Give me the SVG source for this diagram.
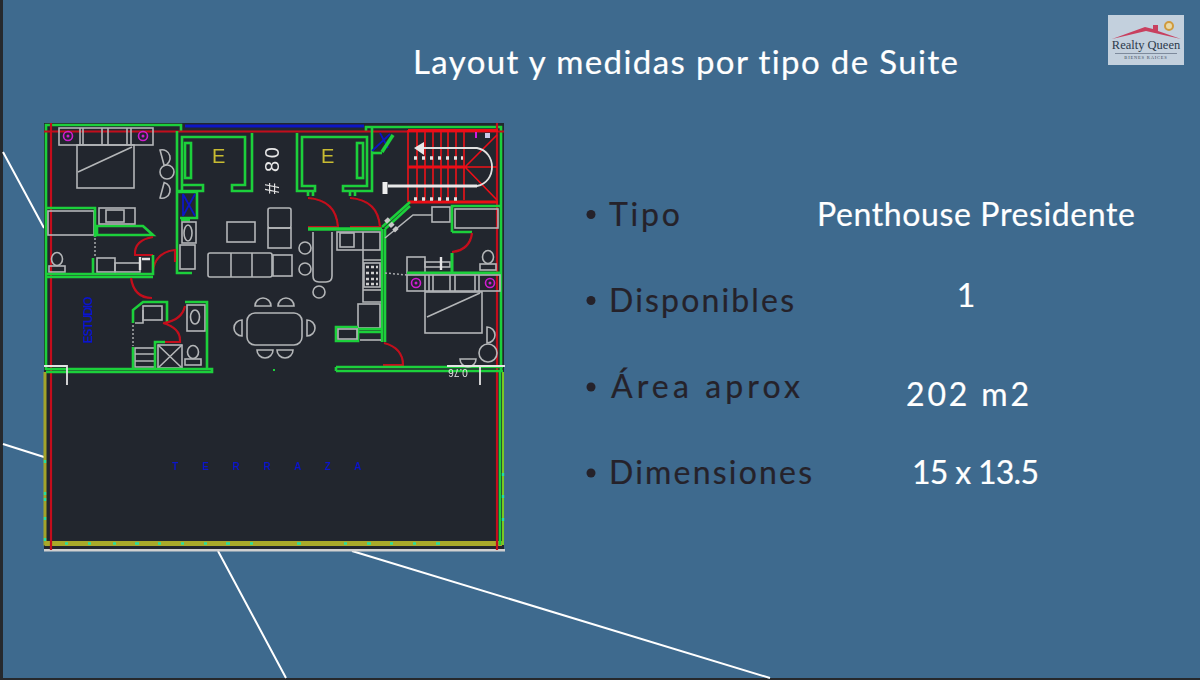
<svg xmlns="http://www.w3.org/2000/svg" width="1200" height="680" viewBox="0 0 1200 680">
<style>
text{font-family:"Lato","Liberation Sans",sans-serif;font-variant-ligatures:none}
.t{font-size:33px;fill:#fff;stroke:#fff;stroke-width:.2px}
.d{font-size:32px;fill:#25222a;stroke:#25222a;stroke-width:.2px}
.v{font-size:32px;fill:#fff;stroke:#fff;stroke-width:.2px}
.bl{fill:#25222a}
.bg{stroke:#fff;stroke-width:2;fill:none}
.g{stroke:#1fd03a;stroke-width:2.6;fill:none}
.w{stroke:#b4b6b8;stroke-width:1.6;fill:none}
.wb{stroke:#e4e4e4;stroke-width:2.4;fill:none}
.r{stroke:#c4101c;stroke-width:2.2;fill:none}
.rb{stroke:#ee1018;stroke-width:2.2;fill:none}
.b{stroke:#0c14c4;stroke-width:1.8;fill:none}
.p{stroke:#d01ed0;stroke-width:1.6;fill:none}
.e{font-size:20px;fill:#c8bb30;font-family:"Liberation Sans",sans-serif}
.n{fill:#0c14c8;font-family:"Liberation Sans",sans-serif;font-weight:bold}
.dot{stroke:#a8aaac;stroke-width:1.5;stroke-dasharray:2 2;fill:none}
</style>
<defs>
<filter id="soft" x="-2%" y="-2%" width="104%" height="104%"><feGaussianBlur stdDeviation="0.4"/></filter>
<g id="chair"><path class="w" d="M-8 3A8 8 0 0 1 8 3Z"/></g>
<g id="toilet"><ellipse class="w" cx="0" cy="-1" rx="5.500" ry="6.500"/><rect class="w" x="-8" y="6" width="16" height="6"/></g>
</defs>
<rect width="1200" height="680" fill="#3e6a8e"/>
<rect x="0" y="0" width="3" height="680" fill="#26292d"/>
<rect x="0" y="678" width="1200" height="2" fill="#26292d"/>
<g id="background-lines">
<path class="bg" d="M3 152L44 228M3 444L44 457M218 551L286 678M352 551L770 678"/>
</g>
<g id="title"><text class="t" x="413" y="74" textLength="545" lengthAdjust="spacing">Layout y medidas por tipo de Suite</text></g>

<g id="floor-plan" filter="url(#soft)">
<rect x="44" y="123" width="460" height="427" fill="#22262e"/>
<rect x="44" y="549" width="461" height="2.500" fill="#d0d0d0"/>
<path d="M185 126H364" stroke="#0c14c4" stroke-width="3" fill="none"/>
<g id="outer-walls">
<path d="M45 372V544H502" stroke="#a3a32a" stroke-width="3" fill="none"/>
<path d="M45 543.500H502" stroke="#a9a92a" stroke-width="5" fill="none"/>
<path d="M503 372V545" stroke="#7cc820" stroke-width="2" fill="none"/>
<path class="g" d="M46 370V125H181V131M366 131V127H501V370M500 370V545"/>
<path d="M65 543.500h3M88 543.500h3M113 543.500h3M135 543.500h4M158 543.500h3M181 543.500h3M204 543.500h3M226 543.500h4M250 543.500h3M297 543.500h4M344 543.500h3M367 543.500h4M390 543.500h3M413 543.500h3M436 543.500h4M45 460v3M45 492v3M45 498v3M45 517v3M45 538v3M503 473v3M503 495v3M503 518v3" stroke="#28e0a0" stroke-width="2.400" fill="none"/>
</g>
<g id="red-lines">
<path class="r" d="M51 123V550M497 123V550"/>
<path class="r" d="M44 131.500H504"/>
</g>
<g id="bedroom-left">
<rect class="w" x="59" y="128" width="94" height="17"/>
<path class="w" d="M80 128V145M83 128V145M102 128V145M108 128V145M127 128V145M131 128V145"/>
<circle class="p" cx="68" cy="136" r="4.500"/><circle cx="68" cy="136" r="1.500" fill="#d01ed0"/>
<circle class="p" cx="143" cy="136" r="4.500"/><circle cx="143" cy="136" r="1.500" fill="#d01ed0"/>
<rect class="w" x="77" y="145" width="57" height="43"/>
<path class="w" d="M78 172L132 147"/>
<circle class="w" cx="167" cy="172" r="7"/>
<use href="#chair" transform="translate(165 157) rotate(75)"/>
<use href="#chair" transform="translate(165 191) rotate(105)"/>
</g>
<g id="closet-1">
<path class="g" d="M177 131V273H192M182 191V137H245V185H232V191H252V133M182 185H203V191H177"/>
<rect class="g" x="185" y="143" width="6" height="35"/>
<text class="e" x="212" y="163">E</text>
<path class="g" d="M178 192H197V218H180M181 220H190"/>
<path class="b" d="M183 194L195 216M195 194L183 216M183 194V216"/>
<rect class="w" x="182" y="222" width="14" height="21"/>
<rect class="w" x="180" y="245" width="15" height="24"/>
<ellipse class="w" cx="188" cy="233" rx="4" ry="8"/>
</g>
<g id="bath-left">
<rect class="w" x="48" y="211" width="46" height="24"/>
<path class="g" d="M46 208H95V237M97 226H143L153 235H97Z"/>
<rect class="w" x="99" y="208" width="36" height="16"/>
<rect class="w" x="106" y="210" width="18" height="12"/>
<path class="dot" d="M95 238V258"/>
<path class="r" d="M153 237Q134 240 135 255H153"/>
<path class="r" d="M153 270Q156 252 175 250V262"/>
<use href="#toilet" transform="translate(57 260)"/>
<rect class="w" x="97" y="258" width="18" height="14"/>
<rect class="w" x="115" y="263" width="25" height="9"/>
<path class="wb" d="M140 257V270M142 259H150"/>
<path class="g" d="M93 258V274M46 274H153V255M46 277H153"/>
</g>
<g id="bath-study">
<path class="r" d="M131 278Q134 298 152 298"/>
<path class="g" d="M133 323V310L143 302H167V323"/>
<rect class="w" x="143" y="306" width="19" height="14"/>
<path class="w" d="M135 323H143V310"/>
<path class="dot" d="M133 325V346"/>
<path class="r" d="M164 323Q182 320 185 306M163 323Q180 328 180 340V342H163"/>
<rect class="w" x="135" y="348" width="20" height="19"/>
<path class="w" d="M135 354H155M135 361H155"/>
<path class="g" d="M133 347V369M155 369V342H165"/>
<rect class="w" x="158" y="345" width="24" height="23"/>
<path class="w" d="M158 345L182 368M182 345L158 368"/>
<use href="#toilet" transform="translate(193 353)"/>
<rect class="w" x="187" y="305" width="18" height="26"/>
<ellipse class="w" cx="195" cy="317" rx="4.500" ry="7"/>
<path class="g" d="M185 302H207V370"/>
<path class="g" d="M46 369H212V372H46"/>
</g>
<g id="living">
<rect class="w" x="227" y="222" width="28" height="20"/>
<rect class="w" x="208" y="253" width="64" height="24" rx="2"/>
<path class="w" d="M231 253V277M252 253V277"/>
<rect class="w" x="268" y="208" width="23" height="20" rx="2"/>
<rect class="w" x="268" y="228" width="23" height="20"/>
<rect class="w" x="273" y="255" width="19" height="21"/>
<text fill="#e8e8e8" font-size="20" style="font-family:'Liberation Sans',sans-serif" transform="rotate(-90 279 194)" x="279" y="194" textLength="47" lengthAdjust="spacing"># 80</text>
</g>
<g id="dining">
<rect class="w" x="247" y="313" width="55" height="32" rx="8"/>
<use href="#chair" transform="translate(263 303)"/>
<use href="#chair" transform="translate(286 303)"/>
<use href="#chair" transform="translate(265 353) rotate(180)"/>
<use href="#chair" transform="translate(285 353) rotate(180)"/>
<use href="#chair" transform="translate(239 328) rotate(-90)"/>
<use href="#chair" transform="translate(310 328) rotate(90)"/>
<path d="M274 369v2" stroke="#1fd03a" stroke-width="2"/>
</g>
<g id="closet-2">
<path class="g" d="M297 133V191H315V186H302V137H367V186H343V191H372V127M308 191V196M313 191V196M350 191V196M355 191V196"/>
<rect class="g" x="357" y="143" width="6" height="35"/>
<text class="e" x="321" y="163">E</text>
<path class="b" d="M372 151L390 134M380 133L388 148"/>
<path d="M382 152L393 135" stroke="#1fd03a" stroke-width="3.500" fill="none"/>
<path class="g" d="M372 153H382"/>
<path class="r" d="M308 198Q336 200 338 227H308M350 198Q378 200 380 227H350"/>
</g>
<g id="stairs">
<path class="rb" d="M408 130V202M417 130V200M425 130V200M433 130V200M441 130V200M448 130V200M456 130V200M464 130V200M465 167L497 135M465 167L497 200M465 167H497" style="stroke-width:1.600"/>
<path class="rb" d="M408 130.500H498M408 167H465M408 202H498" style="stroke-width:3.200"/>
<path d="M417 148H477C497 152 497 182 477 186H388" stroke="#e0e0e0" stroke-width="1.800" fill="none"/>
<path d="M477 186H388" stroke="#e8e8e8" stroke-width="3" fill="none"/>
<path d="M424 142L414 148L424 155Z" fill="#e8e8e8"/>
<path d="M385 182V194" stroke="#eee" stroke-width="5" fill="none"/>
<path d="M414 158h3M422 158h3M430 158h3M438 158h3M446 158h3M454 158h3M461 158h2M414 199h3M422 199h3M430 199h3M438 199h3M446 199h3M454 199h3" stroke="#e4e4e4" stroke-width="3.500" fill="none"/>
<rect x="475" y="132" width="2" height="6" fill="#d01ee0"/>
<rect x="485" y="133" width="5" height="5" fill="#c8c8e8"/>
</g>
<g id="kitchen">
<path d="M308 229H382" stroke="#1fd03a" stroke-width="3.500"/>
<path class="g" d="M382 227L410 202M385 229L410 206M382 229V342M385 229V342"/>
<path class="w" d="M313 232V276Q313 282 319 282H326Q332 282 332 276V232"/>
<circle class="w" cx="305" cy="248" r="6"/><circle class="w" cx="305" cy="269" r="6"/><circle class="w" cx="319" cy="292" r="6"/>
<rect class="w" x="337" y="232" width="43" height="18"/>
<rect class="w" x="340" y="233" width="14" height="14"/>
<path class="w" d="M363 232V250M363 250V302H381M363 260H381"/>
<rect class="w" x="364" y="263" width="16" height="24"/>
<path d="M366 267h12M366 273h12M366 279h12M366 284h12" stroke="#d0d0d0" stroke-width="2.500" stroke-dasharray="3 2"/>
<path class="w" d="M363 290H381"/>
<rect class="w" x="358" y="304" width="22" height="24"/>
<path class="g" d="M358 329H381M358 332H381M358 327H336V341H358V329"/>
<rect class="w" x="338" y="329" width="19" height="10"/>
<path class="w" d="M360 340H381"/>
<path class="r" d="M384 343Q403 348 403 365H383"/>
<path class="g" d="M336 367H503M336 371H503M336 367V371"/>
</g>
<g id="bath-right">
<path class="w" d="M385 238L413 215H432"/>
<rect class="w" x="432" y="207" width="18" height="15"/>
<path d="M386 219L398 232" stroke="#c8c8c8" stroke-width="5" stroke-dasharray="4 2" fill="none"/>
<path class="g" d="M452 232V206H500M452 232H472"/>
<rect class="w" x="455" y="209" width="43" height="19"/>
<path class="r" d="M472 233Q470 250 452 252"/>
<path class="dot" d="M385 273L407 275"/>
<rect class="w" x="407" y="257" width="18" height="16"/>
<rect class="w" x="425" y="262" width="25" height="5"/>
<path class="wb" d="M441 257V270"/>
<use href="#toilet" transform="translate(488 258)"/>
<path class="g" d="M452 253V273M407 273H500" style="stroke-width:3"/>
</g>
<g id="bedroom-right">
<rect class="w" x="407" y="275" width="93" height="16"/>
<path class="w" d="M425 275V291M429 275V291M433 275V291M450 275V291M455 275V291M475 275V291M479 275V291"/>
<circle class="p" cx="416" cy="283" r="4.500"/><circle cx="416" cy="283" r="1.500" fill="#d01ed0"/>
<circle class="p" cx="490" cy="283" r="4.500"/><circle cx="490" cy="283" r="1.500" fill="#d01ed0"/>
<rect class="w" x="425" y="292" width="57" height="41"/>
<path class="w" d="M427 317L480 293"/>
<use href="#chair" transform="translate(490 335) rotate(90)"/>
<circle class="w" cx="488" cy="353" r="9"/>
<use href="#chair" transform="translate(468 362) rotate(180)"/>
</g>
<g id="terrace-marks">
<path d="M44 366H67V385" stroke="#e4e4e4" stroke-width="1.800" fill="none"/>
<path d="M447 366H505M480 366V385" stroke="#e4e4e4" stroke-width="1.800" fill="none"/>
<text fill="#e4e4e4" font-size="10" style="font-family:'Liberation Sans',sans-serif" text-anchor="middle" transform="rotate(180 458 372)" x="458" y="375.500">0.76</text>
<text class="n" font-size="12" text-anchor="middle" transform="rotate(-90 88 320)" x="88" y="324" textLength="47" lengthAdjust="spacing">ESTUDIO</text>
<text class="n" font-size="10" x="172" y="470" letter-spacing="10.500">T E R R A Z A</text>
</g>
</g>

<g id="row-tipo">
<circle class="bl" cx="591" cy="214.500" r="4.500"/>
<text class="d" x="609" y="226" textLength="71" lengthAdjust="spacing">Tipo</text>
<text class="v" x="817" y="226" textLength="318" lengthAdjust="spacing">Penthouse Presidente</text>
</g>
<g id="row-disponibles">
<circle class="bl" cx="591" cy="300.500" r="4.500"/>
<text class="d" x="609" y="312" textLength="185" lengthAdjust="spacing">Disponibles</text>
<text class="v" x="966" y="307" text-anchor="middle">1</text>
</g>
<g id="row-area">
<circle class="bl" cx="591" cy="387" r="4.500"/>
<text class="d" x="611" y="398" textLength="189" lengthAdjust="spacing">Área aprox</text>
<text class="v" x="906" y="406" textLength="123" lengthAdjust="spacing">202 m2</text>
</g>
<g id="row-dimensiones">
<circle class="bl" cx="591" cy="473" r="4.500"/>
<text class="d" x="609" y="484" textLength="203" lengthAdjust="spacing">Dimensiones</text>
<text class="v" x="912" y="484" textLength="127" lengthAdjust="spacing">15 x 13.5</text>
</g>
<g id="logo">
<rect x="1108" y="15" width="76" height="50" fill="#c3d0dd"/>
<path d="M1112 39L1145 27L1153 29V25H1158V31L1181 39L1146 31Z" fill="#c8405f"/>
<circle cx="1169" cy="26" r="4" fill="#e8d9a8" stroke="#d09a3c" stroke-width="2"/>
<text x="1146" y="49" text-anchor="middle" font-size="12.500" fill="#2c3a4c" style="font-family:'Liberation Serif',serif">Realty Queen</text>
<path d="M1115 53.500H1177" stroke="#7d8a9c"/>
<text x="1146" y="59" text-anchor="middle" font-size="4.500" letter-spacing="0.800" fill="#3c4a5c" style="font-family:'Liberation Serif',serif">BIENES RAICES</text>
</g>
</svg>
